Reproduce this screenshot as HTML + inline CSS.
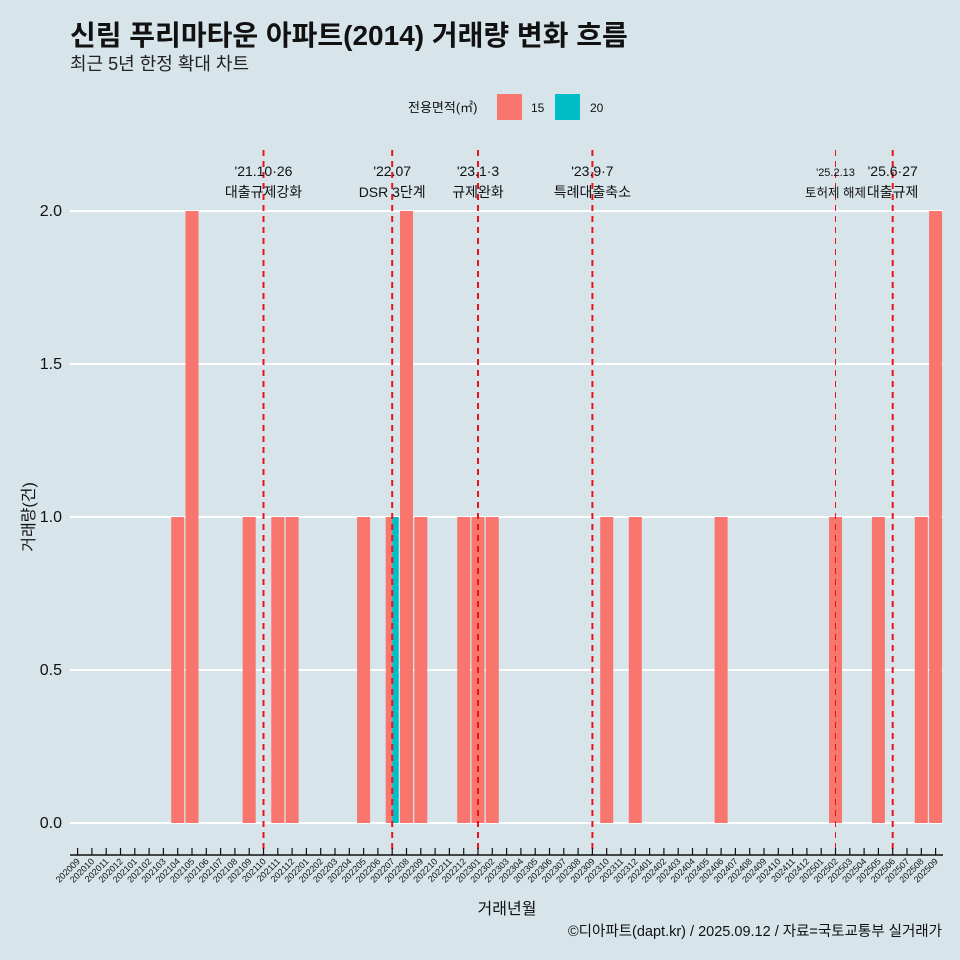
<!DOCTYPE html>
<html><head><meta charset="utf-8"><style>
body{margin:0;background:#d7e4ea;}
svg{display:block;font-family:"Liberation Sans","Noto Sans CJK KR",sans-serif;}
</style></head><body>
<svg id="c" width="960" height="960" xmlns="http://www.w3.org/2000/svg">
<rect width="960" height="960" fill="#d7e4ea"/>
<text x="70" y="45" font-size="28" font-weight="bold" fill="#111">신림 푸리마타운 아파트(2014) 거래량 변화 흐름</text>
<text x="70" y="70" font-size="18" fill="#222">최근 5년 한정 확대 차트</text>
<g>
<text x="408" y="112" font-size="13" fill="#111">전용면적(㎡)</text>
<rect x="497" y="94" width="25" height="26" fill="#f8766d"/>
<text x="531" y="112" font-size="12" fill="#111">15</text>
<rect x="555" y="94" width="25" height="26" fill="#00bfc4"/>
<text x="590" y="112" font-size="12" fill="#111">20</text>
</g>
<g id="plot"></g>
<text x="507" y="914" font-size="16" text-anchor="middle" fill="#111">거래년월</text>
<text transform="translate(34,517) rotate(-90)" font-size="16" text-anchor="middle" fill="#111">거래량(건)</text>
<text x="942" y="936" font-size="14.5" text-anchor="end" fill="#111">©디아파트(dapt.kr) / 2025.09.12 / 자료=국토교통부 실거래가</text>
</svg>
<script>
const months=[];for(let y=2020,m=9;!(y===2025&&m===10);){months.push(''+y+(m<10?'0':'')+m);m++;if(m>12){m=1;y++;}}
const s15Months=['202104','202105','202109','202111','202112','202205','202207','202208','202209','202212','202301','202302','202310','202312','202406','202502','202505','202508','202509'];
const s15Values=[1,2,1,1,1,1,1,2,1,1,1,1,1,1,1,1,1,1,2];
const s20Months=['202207'];
const s20Values=[1];
const yTicks=[0,0.5,1,1.5,2];
const yTickLabels=['0.0','0.5','1.0','1.5','2.0'];
const eventMonths=['202110','202207','202301','202309','202502','202506'];
const eventLine1=["'21.10·26","'22.07","'23.1·3","'23.9·7","'25.2.13","'25.6·27"];
const eventLine2=['대출규제강화','DSR 3단계','규제완화','특례대출축소','토허제 해제','대출규제'];

const NS='http://www.w3.org/2000/svg';
const g=document.getElementById('plot');
const x0=77.6,step=14.3,y0=823,yU=306;
const xs=m=>x0+months.indexOf(m)*step;
const ys=v=>y0-v*yU;
function mk(t,a,p){const e=document.createElementNS(NS,t);for(const k in a)e.setAttribute(k,a[k]);(p||g).appendChild(e);return e;}
yTicks.forEach((v,i)=>{
 const l=mk('line',{x1:70,x2:943,y1:ys(v),y2:ys(v),stroke:'#fff','stroke-width':2});
 
 
 const t=mk('text',{x:62,y:ys(v)+5,'font-size':16,'text-anchor':'end',fill:'#111'});
 t.textContent=yTickLabels[i];
 
 
});
const bw=13;
s15Months.forEach((m,i)=>{
 const dodge=s20Months.includes(m);
 const x=xs(m)-bw/2, w=dodge?bw/2:bw;
 const r=mk('rect',{x:x,y:ys(s15Values[i]),width:w,height:s15Values[i]*yU,fill:'#f8766d'});
 
 
});
s20Months.forEach((m,i)=>{
 const r=mk('rect',{x:xs(m),y:ys(s20Values[i]),width:bw/2,height:s20Values[i]*yU,fill:'#00bfc4'});
 
 
});
eventMonths.forEach((m,i)=>{
 const x=xs(m);
 const small=m==='202502';
 const l=mk('line',{x1:x,x2:x,y1:150,y2:855,stroke:'#e8141b','stroke-width':small?1:2,'stroke-dasharray':'6,5'});
 
 
 const t1=mk('text',{x:x,y:176,'font-size':small?11:14,'text-anchor':'middle',fill:'#111'});
 t1.textContent=eventLine1[i];
 
 
 const t2=mk('text',{x:x,y:197,'font-size':small?12.5:14,'text-anchor':'middle',fill:'#111'});
 t2.textContent=eventLine2[i];
 
 
});
const ax=mk('line',{x1:70,x2:943,y1:855,y2:855,stroke:'#111','stroke-width':1.5});


months.forEach(m=>{
 const x=xs(m);
 const tk=mk('line',{x1:x,x2:x,y1:848,y2:855,stroke:'#111','stroke-width':1.2});
 
 
 const t=mk('text',{x:x+3,y:862,'font-size':9,'text-anchor':'end',fill:'#111',transform:`rotate(-45 ${x+3} 862)`});
 t.textContent=m;
 
 
});
</script>
</body></html>
